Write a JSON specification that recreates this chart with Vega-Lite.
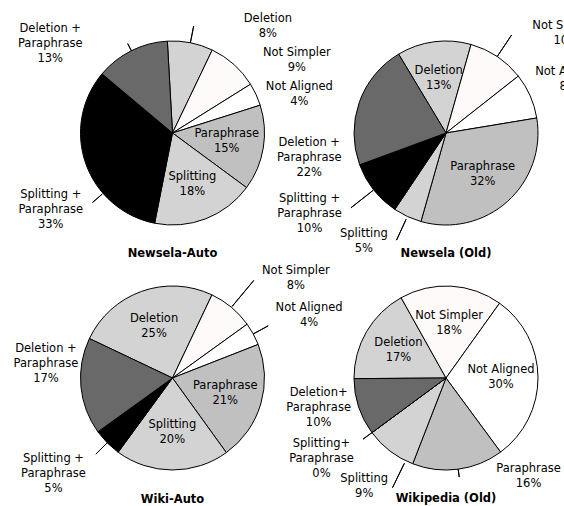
{
  "$schema": "https://vega.github.io/schema/vega-lite/v6.json",
  "padding": {"left": 13.5, "top": 12, "right": 0, "bottom": 0},
  "background": "white",
  "config": {
    "view": {"stroke": null},
    "text": {"font": "DejaVu Sans", "fontSize": 11.5, "lineHeight": 15, "lineBreak": "\n", "align": "center", "baseline": "middle", "color": "black"},
    "title": {"font": "DejaVu Sans", "fontSize": 11.5, "fontWeight": "bold", "orient": "bottom", "offset": 0, "color": "black"}
  },
  "datasets": {
    "pies": [
      {"panel": "Newsela-Auto", "k": 1, "category": "Deletion", "name": "Deletion", "pct": 8},
      {"panel": "Newsela-Auto", "k": 2, "category": "Not Simpler", "name": "Not Simpler", "pct": 9},
      {"panel": "Newsela-Auto", "k": 3, "category": "Not Aligned", "name": "Not Aligned", "pct": 4},
      {"panel": "Newsela-Auto", "k": 4, "category": "Paraphrase", "name": "Paraphrase", "pct": 15},
      {"panel": "Newsela-Auto", "k": 5, "category": "Splitting", "name": "Splitting", "pct": 18},
      {"panel": "Newsela-Auto", "k": 6, "category": "Splitting + Paraphrase", "name": "Splitting +\nParaphrase", "pct": 33},
      {"panel": "Newsela-Auto", "k": 7, "category": "Deletion + Paraphrase", "name": "Deletion +\nParaphrase", "pct": 13},
      {"panel": "Newsela (Old)", "k": 1, "category": "Deletion", "name": "Deletion", "pct": 13},
      {"panel": "Newsela (Old)", "k": 2, "category": "Not Simpler", "name": "Not Simpler", "pct": 10},
      {"panel": "Newsela (Old)", "k": 3, "category": "Not Aligned", "name": "Not Aligned", "pct": 8},
      {"panel": "Newsela (Old)", "k": 4, "category": "Paraphrase", "name": "Paraphrase", "pct": 32},
      {"panel": "Newsela (Old)", "k": 5, "category": "Splitting", "name": "Splitting", "pct": 5},
      {"panel": "Newsela (Old)", "k": 6, "category": "Splitting + Paraphrase", "name": "Splitting +\nParaphrase", "pct": 10},
      {"panel": "Newsela (Old)", "k": 7, "category": "Deletion + Paraphrase", "name": "Deletion +\nParaphrase", "pct": 22},
      {"panel": "Wiki-Auto", "k": 1, "category": "Deletion", "name": "Deletion", "pct": 25},
      {"panel": "Wiki-Auto", "k": 2, "category": "Not Simpler", "name": "Not Simpler", "pct": 8},
      {"panel": "Wiki-Auto", "k": 3, "category": "Not Aligned", "name": "Not Aligned", "pct": 4},
      {"panel": "Wiki-Auto", "k": 4, "category": "Paraphrase", "name": "Paraphrase", "pct": 21},
      {"panel": "Wiki-Auto", "k": 5, "category": "Splitting", "name": "Splitting", "pct": 20},
      {"panel": "Wiki-Auto", "k": 6, "category": "Splitting + Paraphrase", "name": "Splitting +\nParaphrase", "pct": 5},
      {"panel": "Wiki-Auto", "k": 7, "category": "Deletion + Paraphrase", "name": "Deletion +\nParaphrase", "pct": 17},
      {"panel": "Wikipedia (Old)", "k": 1, "category": "Deletion", "name": "Deletion", "pct": 17},
      {"panel": "Wikipedia (Old)", "k": 2, "category": "Not Simpler", "name": "Not Simpler", "pct": 18},
      {"panel": "Wikipedia (Old)", "k": 3, "category": "Not Aligned", "name": "Not Aligned", "pct": 30},
      {"panel": "Wikipedia (Old)", "k": 4, "category": "Paraphrase", "name": "Paraphrase", "pct": 16},
      {"panel": "Wikipedia (Old)", "k": 5, "category": "Splitting", "name": "Splitting", "pct": 9},
      {"panel": "Wikipedia (Old)", "k": 6, "category": "Splitting + Paraphrase", "name": "Splitting+\nParaphrase", "pct": 0},
      {"panel": "Wikipedia (Old)", "k": 7, "category": "Deletion + Paraphrase", "name": "Deletion+\nParaphrase", "pct": 10}
    ]
  },
  "columns": 2,
  "spacing": {"row": 15, "column": 43.5},
  "bounds": "flush",
  "resolve": {"scale": {"theta": "independent"}},
  "concat": [
    {
      "width": 230, "height": 230,
      "title": {"text": "Newsela-Auto", "offset": 0},
      "data": {"name": "pies"},
      "transform": [
        {"filter": "datum.panel === 'Newsela-Auto'"},
        {"stack": "pct", "groupby": [], "sort": [{"field": "k", "order": "ascending"}], "as": ["p0", "p1"]},
        {"calculate": "(datum.p0 + datum.p1) / 2", "as": "mid"},
        {"calculate": "datum.name + '\\n' + datum.pct + '%'", "as": "label"}
      ],
      "layer": [
        {"mark": {"type": "arc", "outerRadius": 92, "stroke": "black", "strokeWidth": 1},
         "encoding": {
           "theta": {"field": "p0", "type": "quantitative", "scale": {"domain": [0, 100], "range": [-0.05585, 6.22734]}},
           "theta2": {"field": "p1"},
           "color": {"field": "category", "type": "nominal", "legend": null,
             "scale": {"domain": ["Deletion","Not Simpler","Not Aligned","Paraphrase","Splitting","Splitting + Paraphrase","Deletion + Paraphrase"],
                       "range": ["#d3d3d3","#fffafa","#ffffff","#c0c0c0","#d3d3d3","#000000","#696969"]}}}},
        {"transform": [{"filter": "datum.category === 'Deletion'"}],
         "mark": {"type": "arc", "innerRadius": 92, "outerRadius": 109, "filled": false, "stroke": "black", "strokeWidth": 1},
         "encoding": {"theta": {"field": "mid", "type": "quantitative"}, "theta2": {"field": "mid"}}},
        {"transform": [{"filter": "datum.category === 'Deletion + Paraphrase'"}],
         "mark": {"type": "arc", "innerRadius": 92, "outerRadius": 100, "filled": false, "stroke": "black", "strokeWidth": 1},
         "encoding": {"theta": {"field": "mid", "type": "quantitative"}, "theta2": {"field": "mid"}}},
        {"transform": [{"filter": "datum.category === 'Splitting + Paraphrase'"}],
         "mark": {"type": "arc", "innerRadius": 93, "outerRadius": 106, "thetaOffset": -0.377, "theta2Offset": -0.377, "filled": false, "stroke": "black", "strokeWidth": 1},
         "encoding": {"theta": {"field": "mid", "type": "quantitative"}, "theta2": {"field": "mid"}}},
        {"transform": [{"filter": "datum.category === 'Paraphrase' || datum.category === 'Splitting'"}],
         "mark": {"type": "text", "radius": 55, "dy": -7.5},
         "encoding": {"theta": {"field": "mid", "type": "quantitative"}, "text": {"field": "label"}}},
        {"transform": [{"filter": "datum.category === 'Deletion'"}],
         "mark": {"type": "text", "radius": 110, "dx": 74, "dy": -6.5},
         "encoding": {"theta": {"field": "mid", "type": "quantitative"}, "text": {"field": "label"}}},
        {"transform": [{"filter": "datum.category === 'Not Simpler'"}],
         "mark": {"type": "text", "radius": 110, "dx": 51, "dy": 2.5},
         "encoding": {"theta": {"field": "mid", "type": "quantitative"}, "text": {"field": "label"}}},
        {"transform": [{"filter": "datum.category === 'Not Aligned'"}],
         "mark": {"type": "text", "radius": 110, "dx": 27, "dy": 0.5},
         "encoding": {"theta": {"field": "mid", "type": "quantitative"}, "text": {"field": "label"}}},
        {"transform": [{"filter": "datum.category === 'Splitting + Paraphrase'"}],
         "mark": {"type": "text", "radius": 110, "dx": -18, "dy": 25},
         "encoding": {"theta": {"field": "mid", "type": "quantitative"}, "text": {"field": "label"}}},
        {"transform": [{"filter": "datum.category === 'Deletion + Paraphrase'"}],
         "mark": {"type": "text", "radius": 110, "dx": -73, "dy": -6},
         "encoding": {"theta": {"field": "mid", "type": "quantitative"}, "text": {"field": "label"}}}
      ]
    },
    {
      "width": 230, "height": 230,
      "title": {"text": "Newsela (Old)", "offset": -7},
      "data": {"name": "pies"},
      "transform": [
        {"filter": "datum.panel === 'Newsela (Old)'"},
        {"stack": "pct", "groupby": [], "sort": [{"field": "k", "order": "ascending"}], "as": ["p0", "p1"]},
        {"calculate": "(datum.p0 + datum.p1) / 2", "as": "mid"},
        {"calculate": "datum.name + '\\n' + datum.pct + '%'", "as": "label"}
      ],
      "layer": [
        {"mark": {"type": "arc", "outerRadius": 92, "stroke": "black", "strokeWidth": 1},
         "encoding": {
           "theta": {"field": "p0", "type": "quantitative", "scale": {"domain": [0, 100], "range": [-0.54105, 5.74214]}},
           "theta2": {"field": "p1"},
           "color": {"field": "category", "type": "nominal", "legend": null,
             "scale": {"domain": ["Deletion","Not Simpler","Not Aligned","Paraphrase","Splitting","Splitting + Paraphrase","Deletion + Paraphrase"],
                       "range": ["#d3d3d3","#fffafa","#ffffff","#c0c0c0","#d3d3d3","#000000","#696969"]}}}},
        {"transform": [{"filter": "datum.category === 'Not Simpler'"}],
         "mark": {"type": "arc", "innerRadius": 92, "outerRadius": 118, "filled": false, "stroke": "black", "strokeWidth": 1},
         "encoding": {"theta": {"field": "mid", "type": "quantitative"}, "theta2": {"field": "mid"}}},
        {"transform": [{"filter": "datum.category === 'Splitting + Paraphrase'"}],
         "mark": {"type": "arc", "innerRadius": 93, "outerRadius": 121, "filled": false, "stroke": "black", "strokeWidth": 1},
         "encoding": {"theta": {"field": "mid", "type": "quantitative"}, "theta2": {"field": "mid"}}},
        {"transform": [{"filter": "datum.category === 'Splitting'"}],
         "mark": {"type": "arc", "innerRadius": 95, "outerRadius": 118, "filled": false, "stroke": "black", "strokeWidth": 1},
         "encoding": {"theta": {"field": "mid", "type": "quantitative"}, "theta2": {"field": "mid"}}},
        {"transform": [{"filter": "datum.category === 'Deletion' || datum.category === 'Paraphrase'"}],
         "mark": {"type": "text", "radius": 55, "dy": -7.5},
         "encoding": {"theta": {"field": "mid", "type": "quantitative"}, "text": {"field": "label"}}},
        {"transform": [{"filter": "datum.category === 'Not Simpler'"}],
         "mark": {"type": "text", "radius": 110, "dx": 59, "dy": -15.5},
         "encoding": {"theta": {"field": "mid", "type": "quantitative"}, "text": {"field": "label"}}},
        {"transform": [{"filter": "datum.category === 'Not Aligned'"}],
         "mark": {"type": "text", "radius": 110, "dx": 22, "dy": -16.5},
         "encoding": {"theta": {"field": "mid", "type": "quantitative"}, "text": {"field": "label"}}},
        {"transform": [{"filter": "datum.category === 'Splitting'"}],
         "mark": {"type": "text", "radius": 110, "dx": -36, "dy": 1.5},
         "encoding": {"theta": {"field": "mid", "type": "quantitative"}, "text": {"field": "label"}}},
        {"transform": [{"filter": "datum.category === 'Splitting + Paraphrase'"}],
         "mark": {"type": "text", "radius": 110, "dx": -50, "dy": -2},
         "encoding": {"theta": {"field": "mid", "type": "quantitative"}, "text": {"field": "label"}}},
        {"transform": [{"filter": "datum.category === 'Deletion + Paraphrase'"}],
         "mark": {"type": "text", "radius": 110, "dx": -33, "dy": 47},
         "encoding": {"theta": {"field": "mid", "type": "quantitative"}, "text": {"field": "label"}}}
      ]
    },
    {
      "width": 230, "height": 230,
      "title": {"text": "Wiki-Auto", "offset": 0},
      "data": {"name": "pies"},
      "transform": [
        {"filter": "datum.panel === 'Wiki-Auto'"},
        {"stack": "pct", "groupby": [], "sort": [{"field": "k", "order": "ascending"}], "as": ["p0", "p1"]},
        {"calculate": "(datum.p0 + datum.p1) / 2", "as": "mid"},
        {"calculate": "datum.name + '\\n' + datum.pct + '%'", "as": "label"}
      ],
      "layer": [
        {"mark": {"type": "arc", "outerRadius": 92, "stroke": "black", "strokeWidth": 1},
         "encoding": {
           "theta": {"field": "p0", "type": "quantitative", "scale": {"domain": [0, 100], "range": [-1.12748, 5.15571]}},
           "theta2": {"field": "p1"},
           "color": {"field": "category", "type": "nominal", "legend": null,
             "scale": {"domain": ["Deletion","Not Simpler","Not Aligned","Paraphrase","Splitting","Splitting + Paraphrase","Deletion + Paraphrase"],
                       "range": ["#d3d3d3","#fffafa","#ffffff","#c0c0c0","#d3d3d3","#000000","#696969"]}}}},
        {"transform": [{"filter": "datum.category === 'Not Simpler'"}],
         "mark": {"type": "arc", "innerRadius": 93, "outerRadius": 127, "filled": false, "stroke": "black", "strokeWidth": 1},
         "encoding": {"theta": {"field": "mid", "type": "quantitative"}, "theta2": {"field": "mid"}}},
        {"transform": [{"filter": "datum.category === 'Not Aligned'"}],
         "mark": {"type": "arc", "innerRadius": 92, "outerRadius": 109, "filled": false, "stroke": "black", "strokeWidth": 1},
         "encoding": {"theta": {"field": "mid", "type": "quantitative"}, "theta2": {"field": "mid"}}},
        {"transform": [{"filter": "datum.category === 'Splitting + Paraphrase'"}],
         "mark": {"type": "arc", "innerRadius": 92, "outerRadius": 108, "filled": false, "stroke": "black", "strokeWidth": 1},
         "encoding": {"theta": {"field": "mid", "type": "quantitative"}, "theta2": {"field": "mid"}}},
        {"transform": [{"filter": "datum.category === 'Deletion' || datum.category === 'Paraphrase' || datum.category === 'Splitting'"}],
         "mark": {"type": "text", "radius": 55, "dy": -7.5},
         "encoding": {"theta": {"field": "mid", "type": "quantitative"}, "text": {"field": "label"}}},
        {"transform": [{"filter": "datum.category === 'Not Simpler'"}],
         "mark": {"type": "text", "radius": 110, "dx": 53, "dy": -22.5},
         "encoding": {"theta": {"field": "mid", "type": "quantitative"}, "text": {"field": "label"}}},
        {"transform": [{"filter": "datum.category === 'Not Aligned'"}],
         "mark": {"type": "text", "radius": 110, "dx": 40, "dy": -17.5},
         "encoding": {"theta": {"field": "mid", "type": "quantitative"}, "text": {"field": "label"}}},
        {"transform": [{"filter": "datum.category === 'Splitting + Paraphrase'"}],
         "mark": {"type": "text", "radius": 110, "dx": -41, "dy": 3},
         "encoding": {"theta": {"field": "mid", "type": "quantitative"}, "text": {"field": "label"}}},
        {"transform": [{"filter": "datum.category === 'Deletion + Paraphrase'"}],
         "mark": {"type": "text", "radius": 110, "dx": -17, "dy": -39},
         "encoding": {"theta": {"field": "mid", "type": "quantitative"}, "text": {"field": "label"}}}
      ]
    },
    {
      "width": 230, "height": 230,
      "title": {"text": "Wikipedia (Old)", "offset": -6},
      "data": {"name": "pies"},
      "transform": [
        {"filter": "datum.panel === 'Wikipedia (Old)'"},
        {"stack": "pct", "groupby": [], "sort": [{"field": "k", "order": "ascending"}], "as": ["p0", "p1"]},
        {"calculate": "(datum.p0 + datum.p1) / 2", "as": "mid"},
        {"calculate": "datum.name + '\\n' + datum.pct + '%'", "as": "label"}
      ],
      "layer": [
        {"mark": {"type": "arc", "outerRadius": 92, "stroke": "black", "strokeWidth": 1},
         "encoding": {
           "theta": {"field": "p0", "type": "quantitative", "scale": {"domain": [0, 100], "range": [-1.57778, 4.70541]}},
           "theta2": {"field": "p1"},
           "color": {"field": "category", "type": "nominal", "legend": null,
             "scale": {"domain": ["Deletion","Not Simpler","Not Aligned","Paraphrase","Splitting","Splitting + Paraphrase","Deletion + Paraphrase"],
                       "range": ["#d3d3d3","#fffafa","#ffffff","#c0c0c0","#d3d3d3","#000000","#696969"]}}}},
        {"transform": [{"filter": "datum.category === 'Splitting + Paraphrase'"}],
         "mark": {"type": "arc", "innerRadius": 90, "outerRadius": 103, "filled": false, "stroke": "black", "strokeWidth": 1},
         "encoding": {"theta": {"field": "mid", "type": "quantitative"}, "theta2": {"field": "mid"}}},
        {"transform": [{"filter": "datum.category === 'Splitting'"}],
         "mark": {"type": "arc", "innerRadius": 95, "outerRadius": 122, "thetaOffset": -0.199, "theta2Offset": -0.199, "filled": false, "stroke": "black", "strokeWidth": 1},
         "encoding": {"theta": {"field": "mid", "type": "quantitative"}, "theta2": {"field": "mid"}}},
        {"transform": [{"filter": "datum.category === 'Paraphrase'"}],
         "mark": {"type": "arc", "innerRadius": 92, "outerRadius": 100, "filled": false, "stroke": "black", "strokeWidth": 1},
         "encoding": {"theta": {"field": "mid", "type": "quantitative"}, "theta2": {"field": "mid"}}},
        {"transform": [{"filter": "datum.category === 'Deletion' || datum.category === 'Not Simpler' || datum.category === 'Not Aligned'"}],
         "mark": {"type": "text", "radius": 55, "dy": -7.5},
         "encoding": {"theta": {"field": "mid", "type": "quantitative"}, "text": {"field": "label"}}},
        {"transform": [{"filter": "datum.category === 'Paraphrase'"}],
         "mark": {"type": "text", "radius": 110, "dx": 68, "dy": -18.5},
         "encoding": {"theta": {"field": "mid", "type": "quantitative"}, "text": {"field": "label"}}},
        {"transform": [{"filter": "datum.category === 'Splitting'"}],
         "mark": {"type": "text", "radius": 110, "dx": -15, "dy": 13.5},
         "encoding": {"theta": {"field": "mid", "type": "quantitative"}, "text": {"field": "label"}}},
        {"transform": [{"filter": "datum.category === 'Splitting + Paraphrase'"}],
         "mark": {"type": "text", "radius": 110, "dx": -36, "dy": 1},
         "encoding": {"theta": {"field": "mid", "type": "quantitative"}, "text": {"field": "label"}}},
        {"transform": [{"filter": "datum.category === 'Deletion + Paraphrase'"}],
         "mark": {"type": "text", "radius": 110, "dx": -23, "dy": -20},
         "encoding": {"theta": {"field": "mid", "type": "quantitative"}, "text": {"field": "label"}}}
      ]
    }
  ]
}
